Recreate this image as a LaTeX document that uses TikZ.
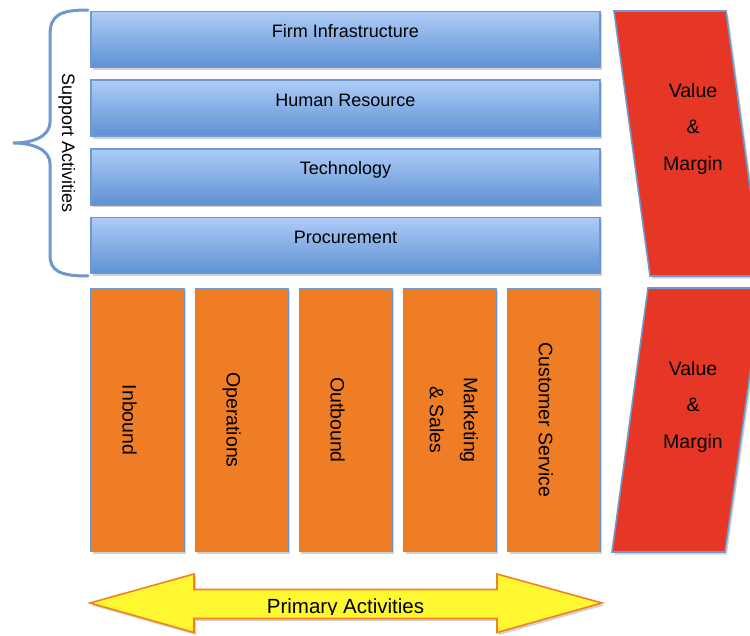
\documentclass[tikz,border=0pt]{standalone}
\usepackage{fontspec}
\setmainfont{Liberation Sans}
\usetikzlibrary{positioning}
\usetikzlibrary{shadows}
\definecolor{supportTop}{RGB}{174,204,247}
\definecolor{supportBottom}{RGB}{94,145,211}
\definecolor{edgeBlue}{RGB}{110,152,206}
\definecolor{primaryOrange}{RGB}{238,125,38}
\definecolor{marginRed}{RGB}{230,55,38}
\definecolor{arrowYellow}{RGB}{255,248,48}
\definecolor{arrowOrange}{RGB}{240,130,36}
\tikzset{
  boxshadow/.style={drop shadow={shadow xshift=2pt, shadow yshift=-2.5pt, opacity=0.3, fill=black!60}},
  support/.style={draw=edgeBlue, line width=1.6pt, top color=supportTop, bottom color=supportBottom,
    minimum width=509pt, minimum height=56pt, inner sep=0, text height=12.5pt, text depth=16pt,
    font=\fontsize{18}{21}\selectfont, boxshadow},
  primary/.style={draw=edgeBlue, line width=1.6pt, fill=primaryOrange,
    minimum width=92.5pt, minimum height=263pt, inner sep=0, boxshadow},
  primlabel/.style={rotate=-90, anchor=base, font=\fontsize{19.5}{34}\selectfont},
  margin/.style={draw=edgeBlue, line width=1.6pt, fill=marginRed, boxshadow},
  marginlabel/.style={align=center, font=\fontsize{19.5}{36.5}\selectfont},
  brace/.style={draw=edgeBlue, line width=3pt, line cap=round},
  bigarrow/.style={draw=arrowOrange, line width=1.6pt, fill=arrowYellow, boxshadow}
}

\begin{document}
\begin{tikzpicture}[x=1pt, y=-1pt]
  \useasboundingbox (0,0) rectangle (750,635);

  \node[support] (firm) at (345.5,39.5) {Firm Infrastructure};
  \node[support, below=11pt of firm] (human) {Human Resource};
  \node[support, below=11pt of human] (tech) {Technology};
  \node[support, below=11pt of tech] (procure) {Procurement};

  \node[primary] (inbound) at (137.5,420) {};
  \node[primary, right=10pt of inbound] (operations) {};
  \node[primary, right=10pt of operations] (outbound) {};
  \node[primary, right=10pt of outbound] (marketing) {};
  \node[primary, right=10pt of marketing] (service) {};

  \node[primlabel] (inboundtext) at ([xshift=-15pt]inbound.center) {Inbound};
  \node[primlabel] (operationstext) at ([xshift=-15pt]operations.center) {Operations};
  \node[primlabel] (outboundtext) at ([xshift=-15pt]outbound.center) {Outbound};
  \node[primlabel, anchor=center, align=center] (marketingtext) at ([xshift=4pt]marketing.center) {Marketing\\\& Sales};
  \node[primlabel] (servicetext) at ([xshift=-15pt]service.center) {Customer Service};

  \draw[margin] (614,11) -- (726,11) -- (762,276) -- (650,276) -- cycle;
  \node[marginlabel] (margintop) at (693,128.5) {Value\\\&\\Margin};
  \draw[margin] (648,288) -- (762,288) -- (725,552) -- (612,552) -- cycle;
  \node[marginlabel] (marginbottom) at (693,406.5) {Value\\\&\\Margin};

  \draw[brace] (88,10) .. controls (60,10) and (50,15) .. (50,35) -- (50,122)
    .. controls (50,137) and (32,143) .. (13,143) .. controls (32,143) and (50,149) .. (50,164)
    -- (50,255) .. controls (50,271) and (60,276) .. (88,276);
  \node[rotate=-90, anchor=base, font=\fontsize{18}{21}\selectfont] (supporttext) at (62,143) {Support Activities};

  \draw[bigarrow] (90,603) -- (194,574) -- (194,589.5) -- (497,589.5) -- (497,574) -- (602,603)
    -- (497,632.5) -- (497,618.5) -- (194,618.5) -- (194,632.5) -- cycle;
  \begin{scope}
    \clip (194,590.3) rectangle (497,614.2);
    \node[anchor=base, font=\fontsize{20.5}{24}\selectfont] (primarytext) at (345.5,613.5) {Primary Activities};
  \end{scope}
\end{tikzpicture}
\end{document}
